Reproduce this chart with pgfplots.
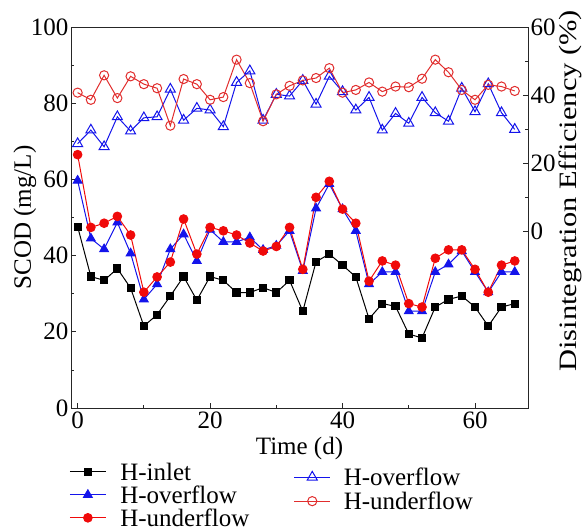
\documentclass[border=0pt]{standalone}
\usepackage{fontspec}
\setmainfont{Liberation Serif}
\usepackage{graphicx}
\usepackage{pgfplots}
\pgfplotsset{compat=1.18}
\usepackage{pgfplotstable}
\definecolor{myblue}{RGB}{20,20,235}
\definecolor{myred}{RGB}{240,10,10}
\definecolor{myredo}{RGB}{225,45,45}
\pgfplotstableread{
x inlet over under
0 47.6 59.7 66.5
2 34.5 44.5 47.4
4 33.5 41.7 48.5
6 36.6 48.7 50.3
8 31.5 40.6 45.4
10 21.5 28.5 30.4
12 24.5 32.5 34.4
14 29.4 41.7 38.3
16 34.5 45.6 49.6
18 28.3 38.6 40.4
20 34.5 46.8 47.4
22 33.5 43.6 46.5
24 30.3 43.6 45.4
26 30.3 44.8 43.3
28 31.6 41.5 41.2
30 30.3 42.6 42.4
32 33.5 46.5 47.4
34 25.4 36.0 36.4
36 38.4 52.4 55.3
38 40.4 58.8 59.5
40 37.5 52.2 52.2
42 34.4 46.5 48.5
44 23.4 32.5 33.3
46 27.4 35.7 38.6
48 26.7 35.7 37.5
50 19.4 25.4 27.4
52 18.4 25.4 26.5
54 26.5 35.7 39.3
56 28.5 37.7 41.5
58 29.4 41.2 41.5
60 26.5 35.7 36.4
62 21.5 30.4 30.4
64 26.5 35.7 37.5
66 27.4 35.7 38.6
}\scod
\pgfplotstableread{
x over under
0 25.7 40.7
2 29.7 38.6
4 24.8 45.8
6 33.6 39.1
8 29.4 45.5
10 33.3 43.2
12 33.6 42.0
14 41.7 31.0
16 32.6 44.7
18 36.1 43.2
20 35.6 38.6
22 30.7 39.4
24 43.7 50.4
26 47.1 43.5
28 32.6 32.3
30 40.2 40.2
32 39.7 42.7
34 44.3 44.3
36 37.3 45.0
38 45.5 47.9
40 41.0 40.7
42 35.6 41.5
44 39.3 43.7
46 29.7 41.0
48 34.6 42.5
50 31.7 42.3
52 39.3 44.8
54 34.8 50.4
56 32.3 46.7
58 42.0 41.5
60 35.1 38.6
62 43.3 43.0
64 34.8 42.5
66 29.9 41.2
}\eff
\pgfplotsset{
  every axis/.append style={
    font=\fontsize{25}{27}\selectfont,
    /pgf/number format/assume math mode=true,
    scale only axis, width=457pt, height=381pt,
    at={(0,0)}, anchor=south west,
    xmin=-1, xmax=68,
    tick align=inside,
    major tick length=5pt, minor tick length=3pt,
    axis line style={line width=0.9pt, black!85},
    every tick/.style={line width=0.8pt, black!85},
    legend cell align=left,
    legend image code/.code={\draw[mark repeat=2,mark phase=2,#1] plot coordinates {(0pt,0pt) (18pt,0pt) (36pt,0pt)};},
  },
}
\begin{document}
\begin{tikzpicture}
\useasboundingbox (-71pt,-123pt) rectangle (512pt,408pt);
\begin{axis}[
  ymin=0, ymax=100,
  xtick={0,20,40,60}, minor xtick={10,30,50},
  ytick={0,20,40,60,80,100}, minor ytick={10,30,50,70,90},
  xtick pos=bottom, ytick pos=left,
  xlabel={Time (d)}, ylabel={SCOD (mg/L)},
  xlabel style={at={(axis description cs:0.5,-0.105)}, anchor=center},
  ylabel style={at={(axis description cs:-0.101,0.5)}, anchor=center},
  yticklabel style={xshift=1pt},
  legend style={draw=none, fill=none, at={(-0.004,-0.144)}, anchor=north west,
    inner sep=0pt, row sep=5.5pt, nodes={inner sep=0pt, text height=17pt, text depth=0.5pt},
    font=\fontsize{25}{26}\selectfont,
    /tikz/every odd column/.append style={column sep=14pt}},
]
\addplot[black, line width=1pt, mark=square*, mark size=3.6pt, mark options={solid}] table[x=x,y=inlet] {\scod};
\addlegendentry{H-inlet}
\addplot[myblue, line width=1pt, mark=triangle*, mark size=5pt, mark options={solid, fill=myblue}] table[x=x,y=over] {\scod};
\addlegendentry{H-overflow}
\addplot[myred, line width=1pt, mark=*, mark size=4.3pt, mark options={solid, fill=myred}] table[x=x,y=under] {\scod};
\addlegendentry{H-underflow}
\end{axis}
\begin{axis}[
  ymin=-52, ymax=60,
  axis x line=none, axis y line*=right,
  ytick={0,20,40,60}, minor ytick={10,30,50},
  ylabel={\scalebox{1.22}[1]{Disintegration Efficiency (\%)}},
  ylabel style={at={(axis description cs:1.093,0.57)}, anchor=center},
  yticklabel style={xshift=-1pt},
  legend style={draw=none, fill=none, at={(0.487,-0.158)}, anchor=north west,
    inner sep=0pt, row sep=6.5pt, nodes={inner sep=0pt, text height=17pt, text depth=0.5pt},
    font=\fontsize{25}{26}\selectfont,
    /tikz/every odd column/.append style={column sep=13pt}},
]
\addplot[myblue, line width=1pt, mark=triangle, mark size=5.8pt, mark options={solid, fill=white}] table[x=x,y=over] {\eff};
\addlegendentry{H-overflow}
\addplot[myredo, line width=1pt, mark=o, mark size=4.6pt, mark options={solid, fill=white}] table[x=x,y=under] {\eff};
\addlegendentry{H-underflow}
\end{axis}
\end{tikzpicture}
\end{document}
